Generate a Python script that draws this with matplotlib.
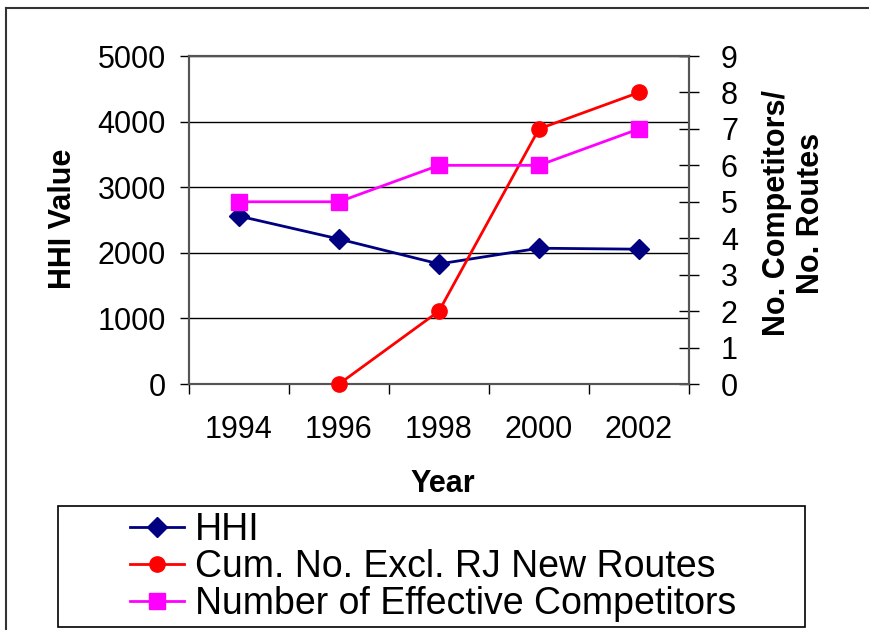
import numpy as np
import matplotlib
matplotlib.use('Agg')
import matplotlib.pyplot as plt
from matplotlib.lines import Line2D
from matplotlib.patches import Rectangle

# chart data
years = ['1994', '1996', '1998', '2000', '2002']
hhi = [2560, 2210, 1830, 2070, 2055]
new_routes = [np.nan, 0, 2, 7, 8]
eff_competitors = [5, 5, 6, 6, 7]

plt.rcParams['font.family'] = ['Liberation Sans', 'DejaVu Sans']

W, H = 870, 630
fig = plt.figure(figsize=(W / 100, H / 100), dpi=100)

# plot area in pixel coords: x 189..689, y 56..384
ax = fig.add_axes([189 / W, 1 - 384 / H, 500 / W, 328 / H])
ax2 = ax.twinx()
x = np.arange(len(years))

# left axis: HHI
ax.plot(x, hhi, color='#000080', lw=2, marker='D', ms=10, clip_on=False, zorder=3)
ax.set_xlim(-0.5, len(years) - 0.5)
ax.set_ylim(0, 5000)
ax.set_yticks(range(0, 5001, 1000))
ax.yaxis.grid(True, color='black', lw=1)
ax.set_axisbelow(True)

ax.set_xticks(x)
ax.set_xticklabels(years)
ax.set_xticks(np.arange(-0.5, len(years), 1), minor=True)
ax.tick_params(axis='x', which='major', length=0, pad=22, labelsize=22)
ax.tick_params(axis='x', which='minor', length=7, width=1, direction='out')
ax.tick_params(axis='y', length=6.5, width=1, pad=10, labelsize=22)

# right axis: counts
ax2.plot(x, new_routes, color='#ff0000', lw=2, marker='o', ms=11, clip_on=False, zorder=3)
ax2.plot(x, eff_competitors, color='#ff00ff', lw=2, marker='s', ms=11, clip_on=False, zorder=3)
ax2.set_ylim(0, 9)
ax2.set_yticks(range(0, 10))
ax2.tick_params(axis='y', direction='inout', length=14, width=1, pad=16, labelsize=22)

for a in (ax, ax2):
    for s in a.spines.values():
        s.set_color('#555555')
        s.set_linewidth(1.5)

# axis titles
fig.text(63 / W, 1 - 219 / H, 'HHI Value', rotation=90, ha='center', va='center',
         fontsize=22, fontweight='bold')
fig.text(443 / W, 1 - 484 / H, 'Year', ha='center', va='center',
         fontsize=22, fontweight='bold')
fig.text(794 / W, 1 - 213 / H, 'No. Competitors/\nNo. Routes', rotation=90,
         ha='center', va='center', fontsize=22, fontweight='bold', linespacing=1.15)

# legend box
fig.patches.append(Rectangle((58 / W, 1 - 627 / H), 747 / W, 121 / H,
                             transform=fig.transFigure, fill=False,
                             edgecolor='black', lw=1.2))
handles = [
    Line2D([], [], color='#000080', lw=2, marker='D', ms=10),
    Line2D([], [], color='#ff0000', lw=2, marker='o', ms=11),
    Line2D([], [], color='#ff00ff', lw=2, marker='s', ms=11),
]
labels = ['HHI', 'Cum. No. Excl. RJ New Routes', 'Number of Effective Competitors']
fig.legend(handles, labels, loc='center', bbox_to_anchor=(433 / W, 1 - 567 / H),
           frameon=False, fontsize=27, handlelength=1.45, handletextpad=0.27,
           labelspacing=0.02, borderpad=0)

# outer chart frame (runs off the right and bottom edges)
fig.add_artist(Line2D([6 / W, 1.01], [1 - 8 / H, 1 - 8 / H], transform=fig.transFigure,
                      color='#333333', lw=1.5))
fig.add_artist(Line2D([6 / W, 6 / W], [1 - 8 / H, -0.01], transform=fig.transFigure,
                      color='#333333', lw=1.5))

fig.savefig('out.png', dpi=100)
